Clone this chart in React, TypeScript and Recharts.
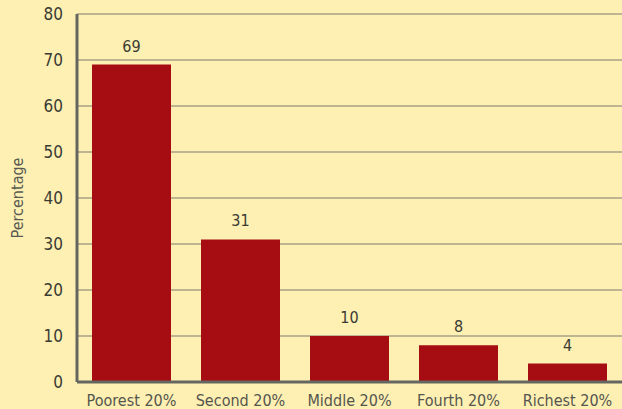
import { BarChart, Bar, XAxis, YAxis, CartesianGrid, LabelList } from "recharts"

const categories = ["Poorest 20%", "Second 20%", "Middle 20%", "Fourth 20%", "Richest 20%"]
const percentages = [69, 31, 10, 8, 4]
const yTicks = [0, 10, 20, 30, 40, 50, 60, 70, 80]

const data = categories.map((name, i) => ({ name, value: percentages[i] }))

const FONT = "'Liberation Sans Narrow', 'DejaVu Sans Condensed', 'Roboto', sans-serif"

const YLabel = (props: any) => {
  const vb = props.viewBox
  const cy = vb.y + vb.height / 2
  return (
    <text x={17} y={cy} transform={`rotate(-90, 17, ${cy})`} textAnchor="middle" dominantBaseline="central"
      fill="#5a5a52" fontSize={16} fontFamily={FONT}>
      Percentage
    </text>
  )
}

export default function App() {
  return (
    <div style={{ position: "absolute", left: 0, top: 0, width: 622, height: 409, background: "#fdf0b2" }}>
      <BarChart width={622} height={409} data={data} margin={{ top: 14, right: 0, bottom: 0, left: 0 }}>
        <CartesianGrid vertical={false} stroke="#7d7b6e" strokeWidth={1.2} />
        <XAxis dataKey="name" height={27} tickLine={false} axisLine={{ stroke: "#666660", strokeWidth: 3 }}
          tick={{ fill: "#55554f", fontSize: 16, fontFamily: FONT }} tickMargin={7} interval={0} />
        <YAxis domain={[0, 80]} ticks={yTicks} width={77} tickLine={false}
          axisLine={{ stroke: "#666660", strokeWidth: 3 }}
          tick={{ fill: "#3a3a34", fontSize: 17, fontFamily: FONT }} tickMargin={8}
          label={<YLabel />} />
        <Bar dataKey="value" fill="#a50d12" barSize={79} isAnimationActive={false}>
          <LabelList dataKey="value" position="top" offset={13} fill="#3a3a34" fontSize={16} fontFamily={FONT} />
        </Bar>
      </BarChart>
    </div>
  )
}
